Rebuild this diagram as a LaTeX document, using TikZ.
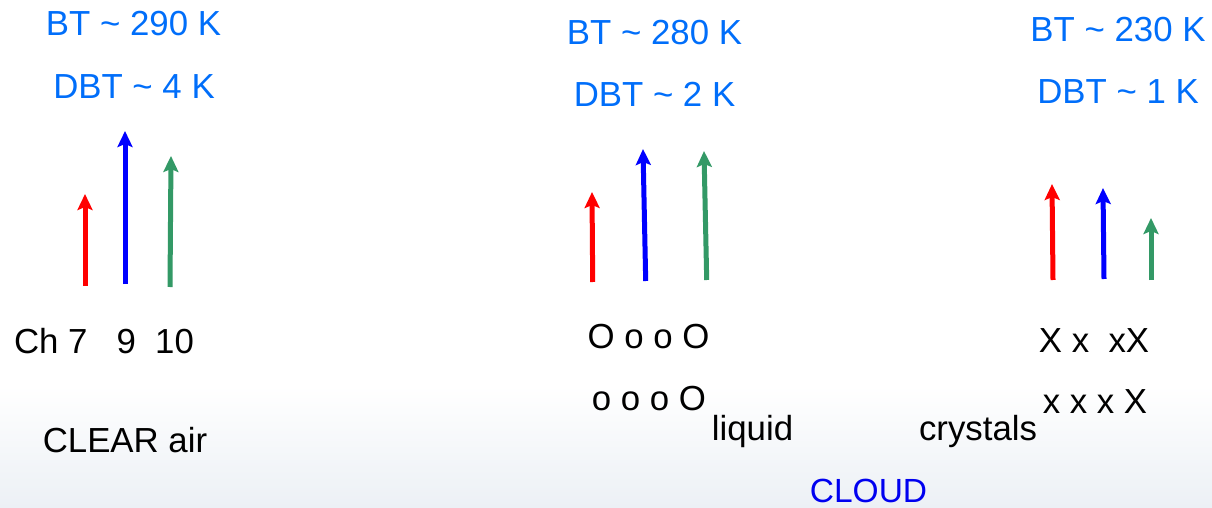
\documentclass[tikz,border=0pt]{standalone}
\usepackage{fontspec}
\setmainfont{Liberation Sans}
\usetikzlibrary{arrows.meta}
\definecolor{btblue}{RGB}{0,110,250}
\definecolor{cloudblue}{RGB}{0,0,240}
\definecolor{chgreen}{RGB}{51,153,102}
\definecolor{bgbottom}{RGB}{236,240,245}
\begin{document}
\begin{tikzpicture}[x=1pt,y=-1pt,
  lbl/.style={inner sep=0pt,anchor=base,font=\fontsize{34.8}{40}\selectfont},
  bt/.style={lbl,text=btblue},
  arr/.style={line width=5pt,-{Stealth[width=15pt,length=16pt,inset=3pt]}}]
\useasboundingbox (0,0) rectangle (1212,508);
\fill[white] (0,0) rectangle (1212,508);
\shade[top color=white,bottom color=bgbottom] (0,385) rectangle (1212,508);
% headers
\node[bt] (bt1) at (133.5,36) {BT \textasciitilde{} 290 K};
\node[bt] (dbt1) at (134,99) {DBT \textasciitilde{} 4 K};
\node[bt] (bt2) at (654.5,45) {BT \textasciitilde{} 280 K};
\node[bt] (dbt2) at (654.5,107) {DBT \textasciitilde{} 2 K};
\node[bt] (bt3) at (1118,42) {BT \textasciitilde{} 230 K};
\node[bt] (dbt3) at (1118,104) {DBT \textasciitilde{} 1 K};
% arrows: clear air
\coordinate (r1b) at (85,286); \coordinate (r1t) at (85,194);
\coordinate (b1b) at (125,284); \coordinate (b1t) at (125,131);
\coordinate (g1b) at (170,287); \coordinate (g1t) at (171,156);
\draw[arr,red] (r1b) -- (r1t);
\draw[arr,blue] (b1b) -- (b1t);
\draw[arr,chgreen] (g1b) -- (g1t);
% arrows: liquid
\coordinate (r2b) at (592.7,282); \coordinate (r2t) at (592,192);
\coordinate (b2b) at (645.7,281); \coordinate (b2t) at (643,149);
\coordinate (g2b) at (706.7,280); \coordinate (g2t) at (704,151);
\draw[arr,red] (r2b) -- (r2t);
\draw[arr,blue] (b2b) -- (b2t);
\draw[arr,chgreen] (g2b) -- (g2t);
% arrows: crystals
\coordinate (r3b) at (1053,280); \coordinate (r3t) at (1052,184);
\coordinate (b3b) at (1104,279); \coordinate (b3t) at (1103,188);
\coordinate (g3b) at (1151,280); \coordinate (g3t) at (1151,218);
\draw[arr,red] (r3b) -- (r3t);
\draw[arr,blue] (b3b) -- (b3t);
\draw[arr,chgreen] (g3b) -- (g3t);
% lower texts
\node[lbl] (ch) at (104,353) {Ch 7\ \ \ 9\ \ 10};
\node[lbl] (orow1) at (648.5,348) {O o o O};
\node[lbl] (orow2) at (649,410) {o o o O};
\node[lbl] (liquid) at (752.5,440) {liquid};
\node[lbl] (xrow1) at (1094,352) {X x\ \ xX};
\node[lbl] (xrow2) at (1095,413) {x x x X};
\node[lbl] (crystals) at (978,440) {crystals};
\node[lbl] (clear) at (125,452) {CLEAR air};
\node[lbl,text=cloudblue,font=\fontsize{33.5}{40}\selectfont] (cloud) at (868.5,502) {CLOUD};
\end{tikzpicture}
\end{document}
